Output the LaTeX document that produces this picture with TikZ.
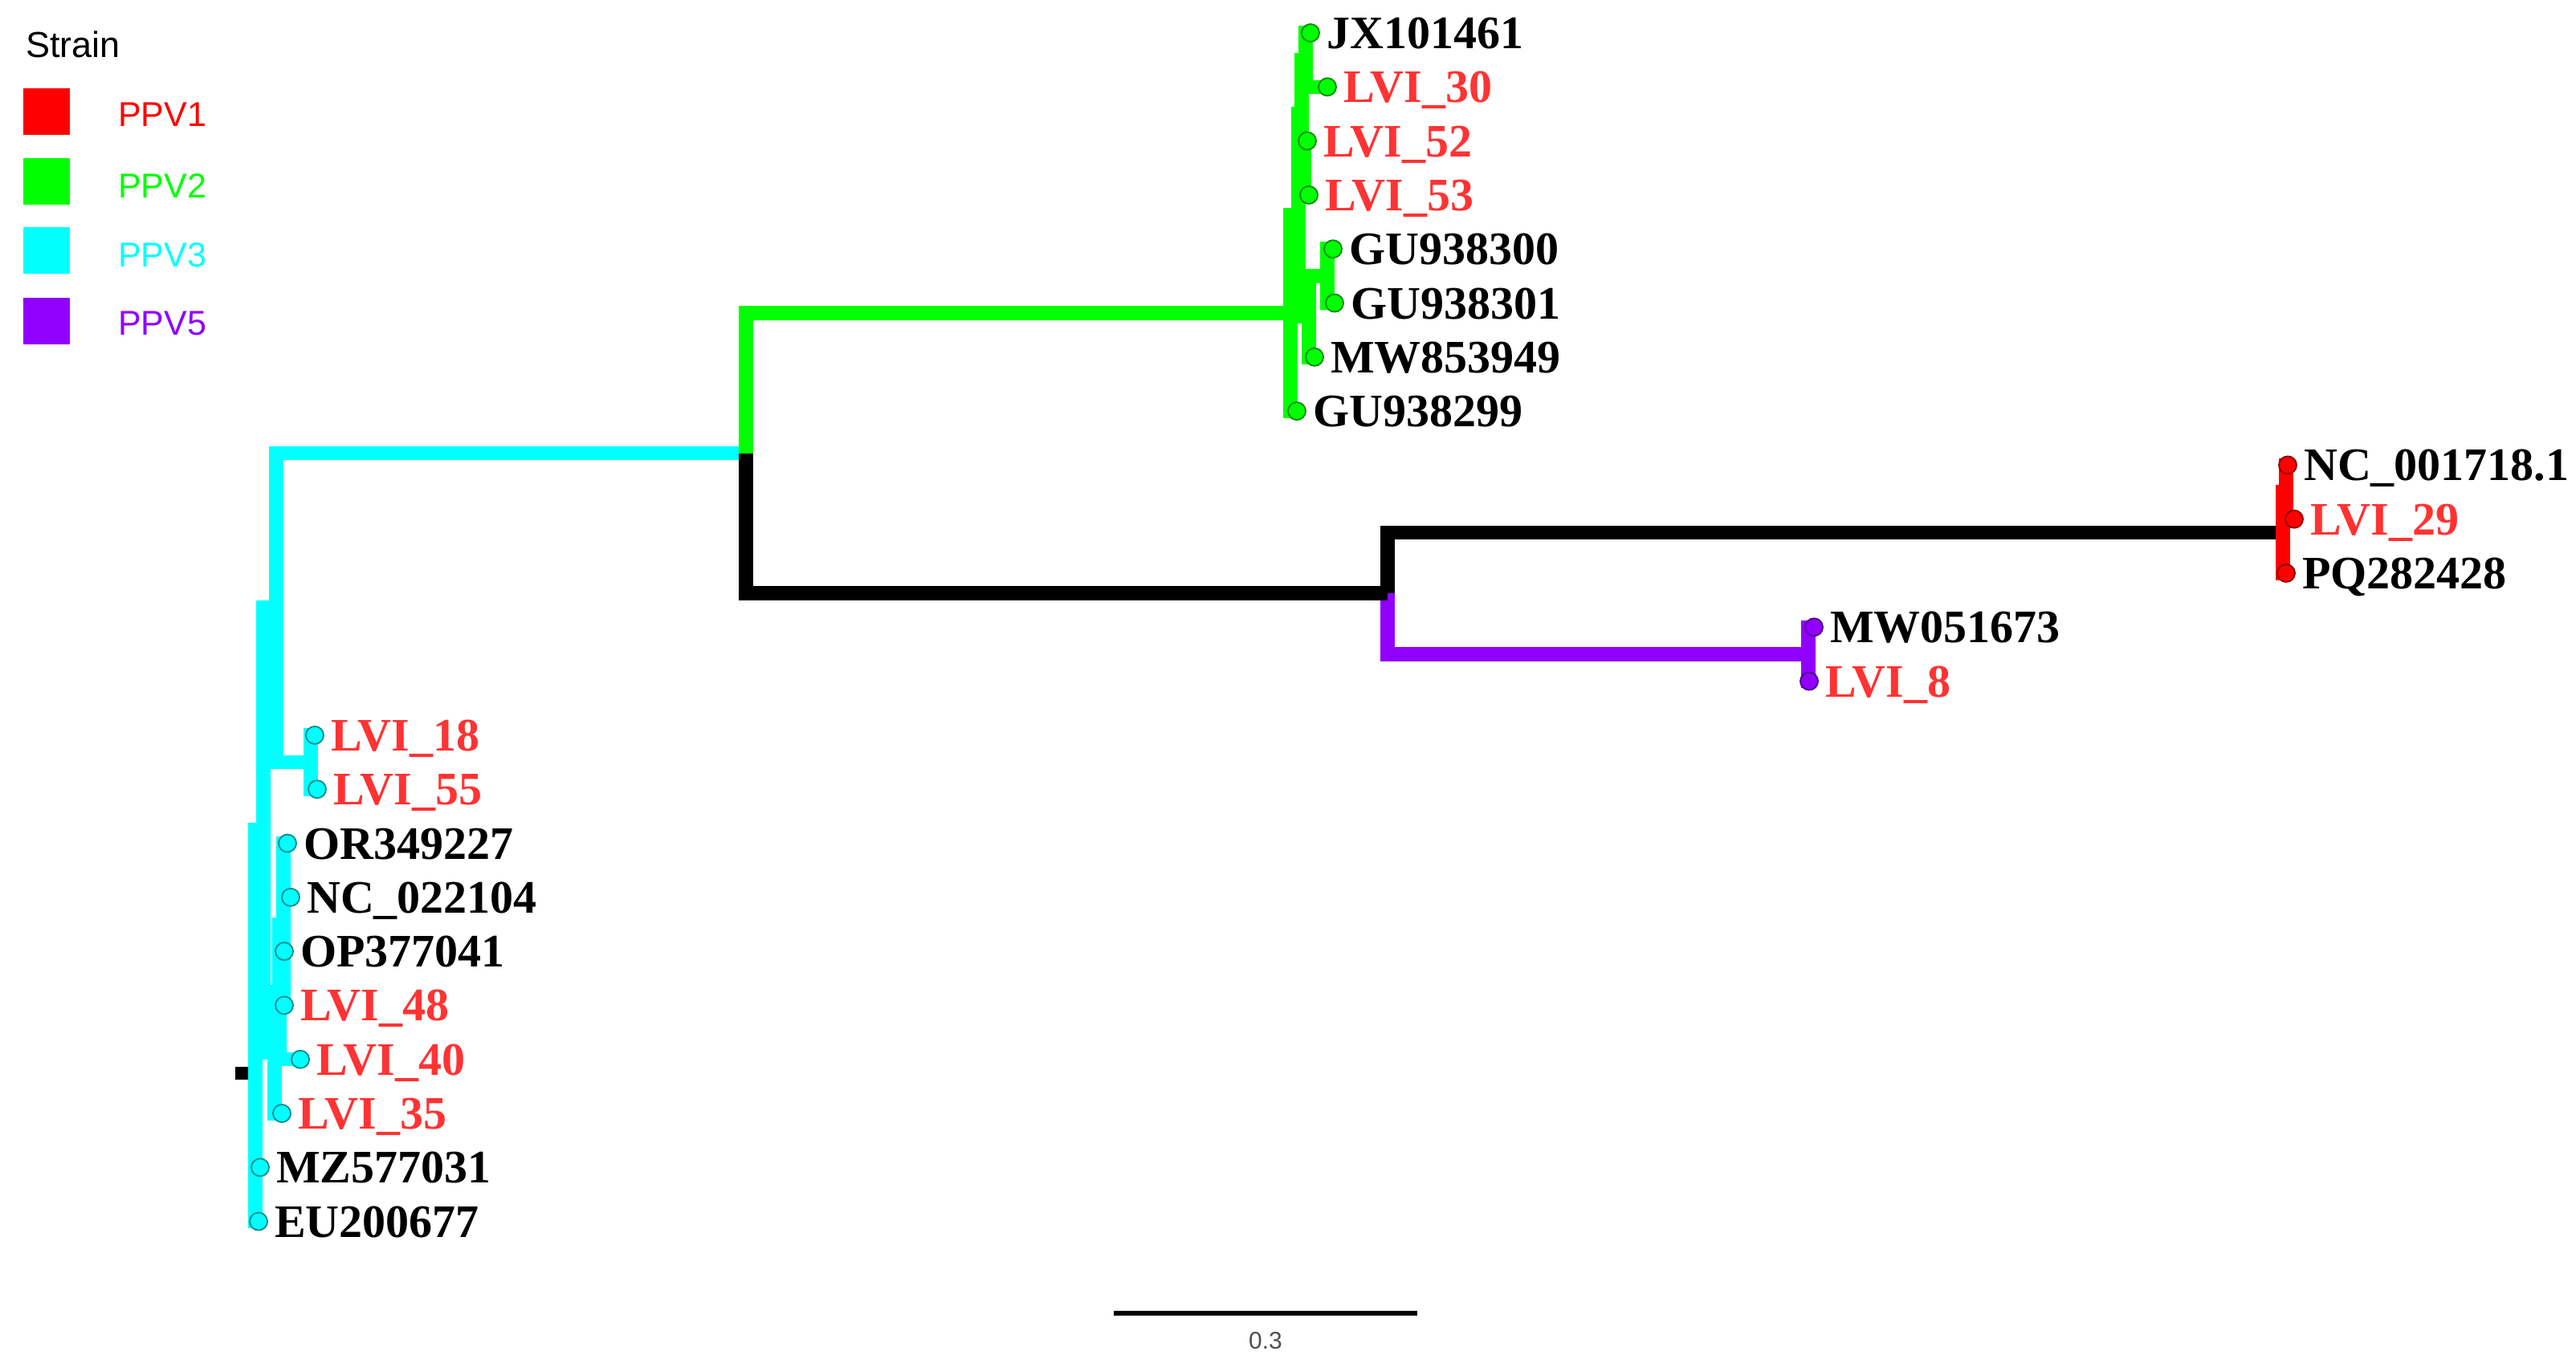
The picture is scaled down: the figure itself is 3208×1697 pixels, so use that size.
\documentclass[tikz,border=0pt]{standalone}
\usepackage{fontspec}
\setmainfont{Liberation Serif}
\newfontfamily\legfont{Liberation Sans}
\definecolor{cyanc}{RGB}{0,255,255}
\definecolor{greenc}{RGB}{0,255,0}
\definecolor{redc}{RGB}{255,0,0}
\definecolor{purc}{RGB}{145,0,255}
\definecolor{labred}{RGB}{255,51,51}
\definecolor{sbgray}{RGB}{80,80,80}
\begin{document}
\begin{tikzpicture}[x=1pt,y=-1pt,
  br/.style={line width=17.5pt, line cap=butt, line join=miter},
  cy/.style={br, draw=cyanc},
  gr/.style={br, draw=greenc},
  bk/.style={br, draw=black},
  rd/.style={br, draw=redc},
  pu/.style={br, draw=purc},
  tipdot/.style={circle, minimum size=22pt, inner sep=0pt, line width=1.8pt},
  lab/.style={anchor=base west, inner sep=0pt, font=\fontsize{58}{60}\selectfont\bfseries},
  legtxt/.style={anchor=base west, inner sep=0pt, font=\legfont\fontsize{43}{46}\selectfont},
  sq/.style={minimum size=58pt, inner sep=0pt, draw=none}
]
\fill[white] (0,0) rectangle (3208,1697);
\useasboundingbox (0,0) rectangle (3208,1697);

% ---- legend ----
\node[legtxt, font=\legfont\fontsize{45}{48}\selectfont] (strain) at (32,71) {Strain};
\node[sq, fill=redc] (k1) at (58,139) {};
\node[sq, fill=greenc] (k2) at (58,226) {};
\node[sq, fill=cyanc] (k3) at (58,312) {};
\node[sq, fill=purc] (k5) at (58,400) {};
\node[legtxt, text=redc] (p1) at (147,157) {PPV1};
\node[legtxt, text=greenc] (p2) at (147,246) {PPV2};
\node[legtxt, text=cyanc] (p3) at (147,332) {PPV3};
\node[legtxt, text=purc] (p5) at (147,417) {PPV5};

% ---- tip coordinates ----
\coordinate (t0) at (1632,41);
\coordinate (t1) at (1653,108.3);
\coordinate (t2) at (1628,175.6);
\coordinate (t3) at (1630,242.9);
\coordinate (t4) at (1660,310.2);
\coordinate (t5) at (1662,377.5);
\coordinate (t6) at (1637,444.8);
\coordinate (t7) at (1615,512.1);
\coordinate (t8) at (2849,579.4);
\coordinate (t9) at (2857,646.7);
\coordinate (t10) at (2847,714);
\coordinate (t11) at (2259,781.3);
\coordinate (t12) at (2253,848.6);
\coordinate (t13) at (392,915.9);
\coordinate (t14) at (395,983.2);
\coordinate (t15) at (358,1050.5);
\coordinate (t16) at (362,1117.8);
\coordinate (t17) at (354,1185.1);
\coordinate (t18) at (354,1252.4);
\coordinate (t19) at (374,1319.7);
\coordinate (t20) at (351,1387);
\coordinate (t21) at (324,1454.3);
\coordinate (t22) at (322,1521.6);

% ---- internal nodes ----
\coordinate (X1) at (1626,74.65);
\coordinate (X4) at (1624,209.25);
\coordinate (G2) at (1621,141.95);
\coordinate (X5) at (1653,343.85);
\coordinate (G3) at (1630,394.3);
\coordinate (G1) at (1617,268.1);
\coordinate (G) at (1607,390.1);
\coordinate (R1) at (2847,613.05);
\coordinate (R) at (2843,663.5);
\coordinate (Pu) at (2252,814.95);
\coordinate (K) at (1728,739.2);
\coordinate (Top) at (929,564.7);
\coordinate (P) at (387,949.55);
\coordinate (A) at (344,757.1);
\coordinate (D4) at (353,1151.45);
\coordinate (D) at (348,1235.6);
\coordinate (N3) at (342,1311.3);
\coordinate (N1) at (328,1034.2);
\coordinate (Root) at (318,1336.7);
\coordinate (R0) at (293,1336.7);

% ---- branches ----
\draw[line width=16pt, line cap=butt] (R0) -- (Root);
\foreach \a/\b in {Root/N1, Root/t21, Root/t22, N1/A, N1/N3, A/Top, A/P,
  P/t13, P/t14, N3/D, N3/t20, D/D4, D/t19, D4/t15, D4/t16, D4/t17, D4/t18}
  \draw[cy] (\a) |- (\b);
\foreach \a/\b in {Top/G, G/G1, G/t7, G1/G2, G1/G3, G2/X1, G2/X4, X1/t0, X1/t1,
  X4/t2, X4/t3, G3/X5, G3/t6, X5/t4, X5/t5}
  \draw[gr] (\a) |- (\b);
\draw[pu] (K) |- (Pu);
\foreach \a/\b in {Pu/t11, Pu/t12} \draw[pu] (\a) |- (\b);
\draw[bk] (Top) |- (K);
\draw[bk] (K) |- (R);
\foreach \a/\b in {R/R1, R/t10, R1/t8, R1/t9} \draw[rd] (\a) |- (\b);

% ---- tip dots and labels ----
\foreach \n/\c/\lc/\t in {
  0/greenc/black/JX101461, 1/greenc/labred/LVI\_30, 2/greenc/labred/LVI\_52,
  3/greenc/labred/LVI\_53, 4/greenc/black/GU938300, 5/greenc/black/GU938301,
  6/greenc/black/MW853949, 7/greenc/black/GU938299,
  8/redc/black/NC\_001718.1, 9/redc/labred/LVI\_29, 10/redc/black/PQ282428,
  11/purc/black/MW051673, 12/purc/labred/LVI\_8,
  13/cyanc/labred/LVI\_18, 14/cyanc/labred/LVI\_55, 15/cyanc/black/OR349227,
  16/cyanc/black/NC\_022104, 17/cyanc/black/OP377041, 18/cyanc/labred/LVI\_48,
  19/cyanc/labred/LVI\_40, 20/cyanc/labred/LVI\_35, 21/cyanc/black/MZ577031,
  22/cyanc/black/EU200677}
{
  \node[tipdot, fill=\c, draw=\c!55!black] (d\n) at (t\n) {};
  \node[lab, text=\lc] (l\n) at ([xshift=20pt,yshift=-19.5pt]t\n) {\t};
}

% ---- scale bar ----
\coordinate (sb1) at (1387,1636);
\coordinate (sb2) at (1765,1636);
\draw[line width=6pt] (sb1) -- (sb2);
\node[anchor=base, inner sep=0pt, text=sbgray, font=\legfont\fontsize{30}{32}\selectfont] (sbl) at (1576,1680) {0.3};
\end{tikzpicture}
\end{document}
